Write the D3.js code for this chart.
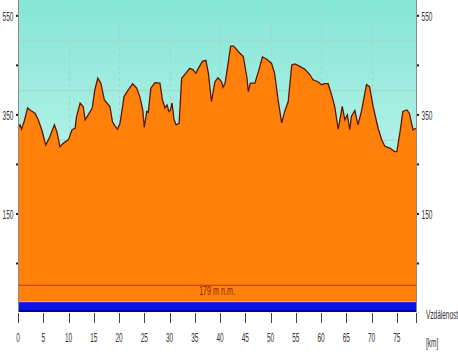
<!DOCTYPE html>
<html>
<head>
<meta charset="utf-8">
<script src="https://cdn.jsdelivr.net/npm/d3@7"></script>
<style>
  body { margin: 0; background: #fff; }
  svg { display: block; }
  .lbl { font-family: "Liberation Sans", Arial, sans-serif; font-size: 13px; fill: #333; }
</style>
</head>
<body>
<div id="chart"></div>
<script>
'use strict';

// Profile: distance [km] and elevation [m]
const distance = [
  0.0, 0.4, 0.7, 1.2, 1.9, 2.4, 3.4, 4.0, 4.7, 5.5, 6.3, 7.2, 7.7, 8.3, 9.0, 10.0,
  10.7, 11.3, 11.6, 12.3, 12.9, 13.3, 13.9, 14.7, 15.2, 15.8, 16.4, 17.1, 17.6, 18.2,
  18.7, 19.2, 19.7, 20.2, 21.0, 21.8, 22.7, 23.5, 24.1, 24.7, 25.0, 25.5, 25.8, 26.3,
  27.1, 28.1, 28.6, 29.1, 29.5, 29.9, 30.2, 30.5, 30.9, 31.3, 31.9, 32.4, 33.2, 34.0,
  34.7, 35.2, 35.7, 36.5, 37.2, 37.7, 38.3, 39.0, 39.6, 40.3, 40.6, 41.0, 41.6, 42.1,
  42.7, 43.6, 44.6, 45.3, 45.6, 46.0, 46.9, 47.7, 48.4, 49.2, 50.2, 50.8, 51.5, 52.2,
  52.8, 53.5, 54.2, 54.8, 55.8, 56.8, 57.8, 58.4, 59.4, 60.1, 60.7, 61.4, 62.1, 62.7,
  63.4, 64.2, 64.7, 65.2, 65.7, 66.0, 66.7, 67.3, 68.0, 69.0, 69.6, 70.3, 71.3, 72.0,
  72.6, 73.6, 74.6, 75.0, 75.6, 76.2, 77.0, 77.5, 78.2, 78.8
];
const elevation = [
  323, 330, 321, 336, 364, 360, 353, 340, 320, 289, 306, 330, 316, 286, 293, 300,
  320, 323, 347, 374, 367, 340, 350, 364, 400, 424, 414, 380, 374, 367,
  336, 328, 321, 333, 387, 400, 413, 404, 387, 360, 325, 357, 355, 404,
  415, 414, 380, 364, 370, 357, 360, 374, 340, 330, 333, 424, 434, 444,
  441, 434, 444, 458, 460, 434, 377, 417, 425, 417, 406, 414, 454, 489,
  489, 478, 468, 427, 397, 414, 414, 441, 467, 463, 454, 434, 380, 334,
  357, 377, 451, 453, 448, 442, 431, 421, 417, 411, 413, 413, 390, 367,
  321, 367, 340, 350, 320, 347, 359, 330, 357, 411, 407, 367, 323, 300,
  287, 283, 276, 276, 313, 357, 360, 353, 320, 323
];

const xTicks = [0, 5, 10, 15, 20, 25, 30, 35, 40, 45, 50, 55, 60, 65, 70, 75];
const xGrid = [10, 20, 30, 40, 50, 60, 70];
const yTicks = [50, 150, 250, 350, 450, 550];
const yLabels = [150, 350, 550];
const yGrid = [100, 200, 300, 400, 500];

const refLevel = 6;
const refLabel = '179 m n.m.';
const baseTop = -28;
const baseBottom = -48;
const xTitle = 'Vzdálenost';
const xUnit = '[km]';

const W = 458, H = 356;

const x = d3.scaleLinear().domain([0, 78.8]).range([18, 416]);
const y = d3.scaleLinear().domain([-48, 582]).range([312, 0]);

const svg = d3.select('#chart').append('svg')
  .attr('width', W)
  .attr('height', H);

// Sky gradient
const grad = svg.append('defs').append('linearGradient')
  .attr('id', 'sky')
  .attr('x1', 0).attr('y1', 0).attr('x2', 0).attr('y2', 1);
grad.append('stop').attr('offset', '0%').attr('stop-color', '#84e6d5');
grad.append('stop').attr('offset', '100%').attr('stop-color', '#e2fcf9');

svg.append('rect')
  .attr('x', x(0))
  .attr('y', y(582))
  .attr('width', x(78.8) - x(0))
  .attr('height', y(baseBottom) - y(582))
  .attr('fill', 'url(#sky)');

// Grid
svg.append('g')
  .selectAll('line')
  .data(yGrid)
  .enter()
  .append('line')
    .attr('x1', x(0))
    .attr('x2', x(78.8))
    .attr('y1', d => y(d) + 0.5)
    .attr('y2', d => y(d) + 0.5)
    .attr('stroke', '#9fd6c8')
    .attr('stroke-width', 1);

svg.append('g')
  .selectAll('line')
  .data(xGrid)
  .enter()
  .append('line')
    .attr('x1', d => Math.round(x(d)) + 0.5)
    .attr('x2', d => Math.round(x(d)) + 0.5)
    .attr('y1', y(582))
    .attr('y2', y(baseTop))
    .attr('stroke', '#9fd6c8')
    .attr('stroke-dasharray', '3,3');

// Profile area
const points = distance.map((d, i) => [d, elevation[i]]);

svg.append('path')
  .datum(points)
  .attr('fill', '#ff800a')
  .attr('d', d3.area()
    .x(d => x(d[0]))
    .y0(y(baseTop))
    .y1(d => y(d[1])));

svg.append('path')
  .datum(points)
  .attr('fill', 'none')
  .attr('stroke', '#5c1600')
  .attr('stroke-width', 1.3)
  .attr('d', d3.line()
    .x(d => x(d[0]))
    .y(d => y(d[1])));

// Reference level
svg.append('line')
  .attr('x1', x(0))
  .attr('x2', x(78.8))
  .attr('y1', y(refLevel))
  .attr('y2', y(refLevel))
  .attr('stroke', '#b83a10')
  .attr('stroke-width', 1);

svg.append('text')
  .attr('class', 'lbl')
  .attr('transform', 'translate(' + (x(0) + x(78.8)) / 2 + ',' + (y(refLevel) + 10) + ') scale(0.55,1)')
  .attr('text-anchor', 'middle')
  .style('fill', '#8a2a05')
  .text(refLabel);

// Base band
svg.append('rect')
  .attr('x', x(0))
  .attr('y', y(baseTop))
  .attr('width', x(78.8) - x(0))
  .attr('height', y(baseBottom) - y(baseTop))
  .attr('fill', '#0a14e6');

svg.append('line')
  .attr('x1', x(0)).attr('x2', x(78.8))
  .attr('y1', y(baseTop) - 0.5).attr('y2', y(baseTop) - 0.5)
  .attr('stroke', '#ff9c7a');

svg.append('line')
  .attr('x1', x(0)).attr('x2', x(78.8))
  .attr('y1', y(baseBottom) - 1).attr('y2', y(baseBottom) - 1)
  .attr('stroke', '#050560')
  .attr('stroke-width', 1.5);

// Side axes
[x(0), x(78.8)].forEach((px, side) => {
  svg.append('line')
    .attr('x1', px + 0.5).attr('x2', px + 0.5)
    .attr('y1', y(582)).attr('y2', y(baseBottom))
    .attr('stroke', '#8a8a8a');

  svg.append('g')
    .selectAll('rect')
    .data(yTicks)
    .enter()
    .append('rect')
      .attr('x', side ? px + 1 : px - 2)
      .attr('y', d => y(d) - 1)
      .attr('width', 2)
      .attr('height', 2)
      .attr('fill', '#222');

  svg.append('g')
    .selectAll('text')
    .data(yLabels)
    .enter()
    .append('text')
      .attr('class', 'lbl')
      .attr('text-anchor', 'middle')
      .attr('transform', d => 'translate(' + (side ? px + 11 : px - 10) + ',' + (y(d) + 5) + ') scale(0.5,1)')
      .text(d => d);
});

// Distance axis
const xAxis = svg.append('g');

xAxis.selectAll('line')
  .data(xTicks.concat([78.8]))
  .enter()
  .append('line')
    .attr('x1', d => Math.round(x(d)) + 0.5)
    .attr('x2', d => Math.round(x(d)) + 0.5)
    .attr('y1', y(baseBottom) + 1)
    .attr('y2', y(baseBottom) + 11)
    .attr('stroke', '#444');

xAxis.selectAll('text')
  .data(xTicks)
  .enter()
  .append('text')
    .attr('class', 'lbl')
    .attr('text-anchor', 'middle')
    .attr('transform', d => 'translate(' + x(d) + ',' + (y(baseBottom) + 30) + ') scale(0.5,1)')
    .text(d => d);

svg.append('text')
  .attr('class', 'lbl')
  .attr('transform', 'translate(' + (x(78.8) + 10) + ',' + (y(baseBottom) + 7) + ') scale(0.5,1)')
  .text(xTitle);

svg.append('text')
  .attr('class', 'lbl')
  .attr('transform', 'translate(' + (x(78.8) + 10) + ',' + (y(baseBottom) + 35) + ') scale(0.5,1)')
  .text(xUnit);
</script>
</body>
</html>
